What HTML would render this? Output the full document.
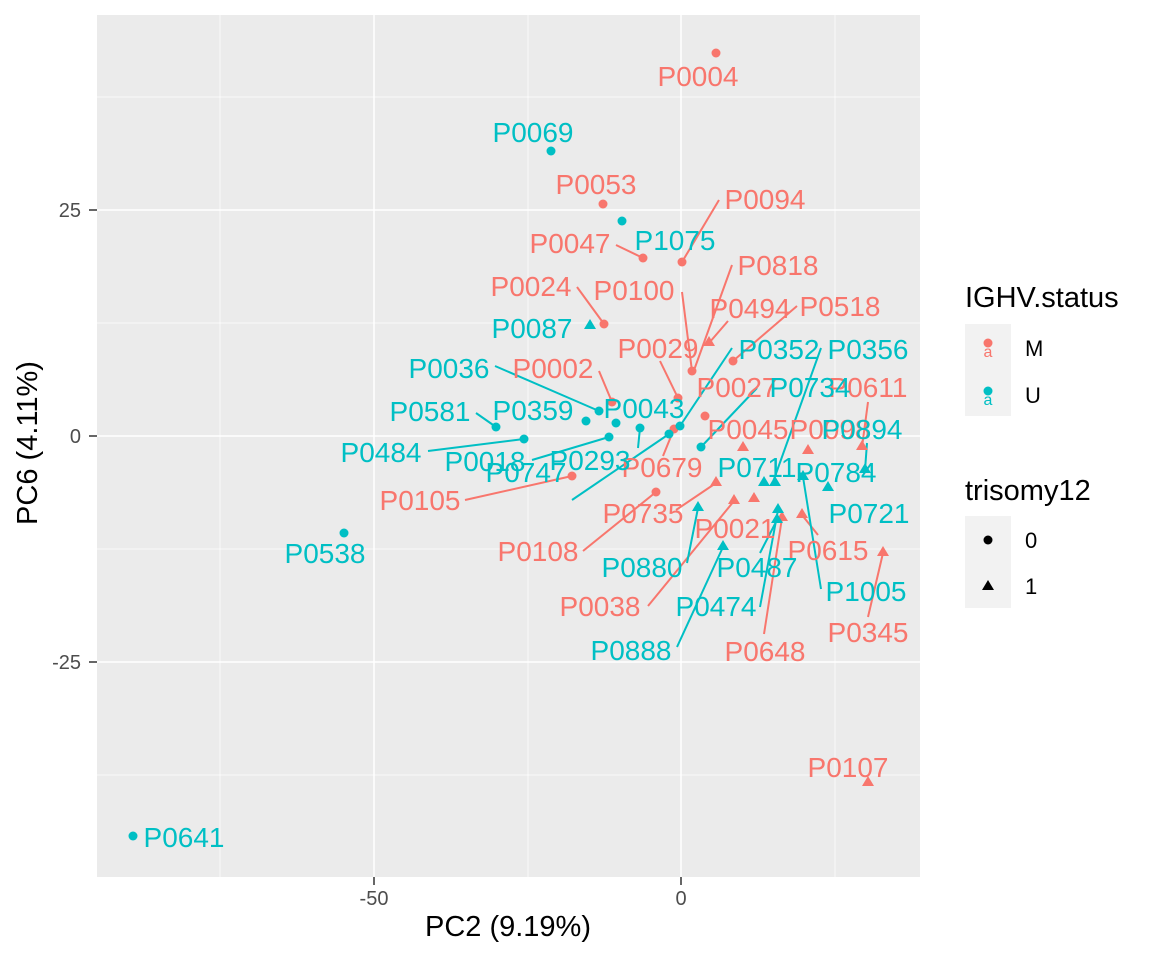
<!DOCTYPE html>
<html><head><meta charset="utf-8"><style>body{margin:0;background:#fff}svg{display:block}text{font-family:"Liberation Sans",Arial,sans-serif}</style></head><body>
<svg width="1152" height="960" xmlns="http://www.w3.org/2000/svg">
<rect x="97" y="15" width="823" height="862" fill="#EBEBEB"/>
<g stroke="#fff" stroke-width="0.7">
<line x1="220" y1="15" x2="220" y2="877"/><line x1="528" y1="15" x2="528" y2="877"/><line x1="835" y1="15" x2="835" y2="877"/>
<line x1="97" y1="97" x2="920" y2="97"/><line x1="97" y1="323" x2="920" y2="323"/><line x1="97" y1="549" x2="920" y2="549"/><line x1="97" y1="775" x2="920" y2="775"/>
</g>
<g stroke="#fff" stroke-width="1.5">
<line x1="374" y1="15" x2="374" y2="877"/><line x1="681" y1="15" x2="681" y2="877"/>
<line x1="97" y1="210" x2="920" y2="210"/><line x1="97" y1="436" x2="920" y2="436"/><line x1="97" y1="662" x2="920" y2="662"/>
</g>
<g stroke="#333" stroke-width="1.5">
<line x1="89" y1="210" x2="97" y2="210"/><line x1="89" y1="436" x2="97" y2="436"/><line x1="89" y1="662" x2="97" y2="662"/>
<line x1="374" y1="877" x2="374" y2="885"/><line x1="681" y1="877" x2="681" y2="885"/>
</g>
<g font-size="20" fill="#4D4D4D">
<text x="81" y="217" text-anchor="end">25</text><text x="81" y="443" text-anchor="end">0</text><text x="81" y="669" text-anchor="end">-25</text>
<text x="374" y="905" text-anchor="middle">-50</text><text x="681" y="905" text-anchor="middle">0</text>
</g>
<text x="508" y="936" font-size="29" text-anchor="middle">PC2 (9.19%)</text>
<text transform="translate(37,443) rotate(-90)" font-size="29" text-anchor="middle">PC6 (4.11%)</text>

<g stroke-width="2">
<g stroke="#F8766D">
<line x1="616" y1="245" x2="643" y2="258"/><line x1="719" y1="200" x2="682" y2="262"/>
<line x1="577" y1="287" x2="604" y2="324"/><line x1="682" y1="292" x2="692" y2="371"/>
<line x1="732" y1="265" x2="693" y2="373"/><line x1="728" y1="321" x2="709" y2="343"/>
<line x1="797" y1="306" x2="733" y2="361"/><line x1="660" y1="361" x2="678" y2="398"/>
<line x1="599" y1="371" x2="612" y2="402"/><line x1="868" y1="402" x2="862" y2="447"/>
<line x1="465" y1="500" x2="572" y2="476"/><line x1="676" y1="510" x2="716" y2="483"/>
<line x1="583" y1="551" x2="656" y2="492"/><line x1="648" y1="606" x2="734" y2="501"/>
<line x1="764" y1="634" x2="782" y2="518"/><line x1="818" y1="535" x2="802" y2="515"/>
<line x1="868" y1="617" x2="883" y2="553"/><line x1="663" y1="456" x2="674" y2="429"/>
</g>
<g stroke="#00BFC4">
<line x1="495" y1="366" x2="599" y2="411"/><line x1="476" y1="413" x2="496" y2="427"/>
<line x1="428" y1="451" x2="524" y2="439"/><line x1="532" y1="460" x2="609" y2="437"/>
<line x1="638" y1="448" x2="640" y2="428"/><line x1="572" y1="500" x2="669" y2="434"/>
<line x1="732" y1="348" x2="680" y2="426"/><line x1="821" y1="348" x2="773" y2="482"/>
<line x1="757" y1="388" x2="701" y2="447"/><line x1="867" y1="443" x2="865" y2="470"/>
<line x1="687" y1="563" x2="698" y2="508"/><line x1="677" y1="647" x2="723" y2="547"/>
<line x1="760" y1="607" x2="778" y2="510"/><line x1="760" y1="553" x2="777" y2="520"/>
<line x1="821" y1="589" x2="803" y2="477"/>
</g>
</g>

<g fill="#F8766D">
<circle cx="716" cy="53" r="4.5"/><circle cx="603" cy="204" r="4.5"/><circle cx="643" cy="258" r="4.5"/>
<circle cx="682" cy="262" r="4.5"/><circle cx="604" cy="324" r="4.5"/><circle cx="692" cy="371" r="4.5"/>
<circle cx="733" cy="361" r="4.5"/><circle cx="678" cy="398" r="4.5"/><circle cx="612" cy="402" r="4.5"/>
<circle cx="705" cy="416" r="4.5"/><circle cx="674" cy="429" r="4.5"/><circle cx="572" cy="476" r="4.5"/>
<circle cx="656" cy="492" r="4.5"/>
<path d="M709,336 l6,10 h-12z"/><path d="M743,441 l6,10 h-12z"/><path d="M808,444 l6,10 h-12z"/>
<path d="M862,440 l6,10 h-12z"/><path d="M716,476 l6,10 h-12z"/><path d="M734,494 l6,10 h-12z"/>
<path d="M754,492 l6,10 h-12z"/><path d="M782,511 l6,10 h-12z"/><path d="M802,508 l6,10 h-12z"/>
<path d="M883,546 l6,10 h-12z"/><path d="M868,776 l6,10 h-12z"/>
</g>
<g fill="#00BFC4">
<circle cx="551" cy="151" r="4.5"/><circle cx="622" cy="221" r="4.5"/><circle cx="599" cy="411" r="4.5"/>
<circle cx="586" cy="421" r="4.5"/><circle cx="616" cy="423" r="4.5"/><circle cx="496" cy="427" r="4.5"/>
<circle cx="524" cy="439" r="4.5"/><circle cx="609" cy="437" r="4.5"/><circle cx="640" cy="428" r="4.5"/>
<circle cx="669" cy="434" r="4.5"/><circle cx="680" cy="426" r="4.5"/><circle cx="701" cy="447" r="4.5"/>
<circle cx="344" cy="533" r="4.5"/><circle cx="133" cy="836" r="4.5"/>
<path d="M590,319 l6,10 h-12z"/><path d="M764,476 l6,10 h-12z"/><path d="M775,476 l6,10 h-12z"/>
<path d="M865,463 l6,10 h-12z"/><path d="M803,470 l6,10 h-12z"/><path d="M828,481 l6,10 h-12z"/>
<path d="M698,501 l6,10 h-12z"/><path d="M723,540 l6,10 h-12z"/><path d="M778,503 l6,10 h-12z"/>
<path d="M777,513 l6,10 h-12z"/>
</g>

<g font-size="28" text-anchor="middle" fill="#F8766D">
<text x="698" y="86">P0004</text><text x="596" y="194">P0053</text><text x="765" y="209">P0094</text>
<text x="570" y="253">P0047</text><text x="778" y="275">P0818</text><text x="531" y="296">P0024</text>
<text x="634" y="300">P0100</text><text x="750" y="318">P0494</text><text x="840" y="316">P0518</text>
<text x="658" y="358">P0029</text><text x="553" y="378">P0002</text><text x="737" y="397">P0027</text>
<text x="868" y="397">P0611</text><text x="748" y="439">P0045</text><text x="830" y="439">P0098</text>
<text x="662" y="477">P0679</text><text x="420" y="510">P0105</text><text x="643" y="523">P0735</text>
<text x="735" y="538">P0021</text><text x="538" y="561">P0108</text><text x="828" y="560">P0615</text>
<text x="600" y="616">P0038</text><text x="868" y="642">P0345</text><text x="765" y="661">P0648</text>
<text x="848" y="777">P0107</text>
</g>
<g font-size="28" text-anchor="middle" fill="#00BFC4">
<text x="533" y="142">P0069</text><text x="675" y="250">P1075</text><text x="532" y="338">P0087</text>
<text x="449" y="378">P0036</text><text x="779" y="359">P0352</text><text x="868" y="359">P0356</text>
<text x="810" y="397">P0734</text><text x="430" y="421">P0581</text><text x="533" y="420">P0359</text>
<text x="644" y="418">P0043</text><text x="862" y="439">P0894</text><text x="381" y="462">P0484</text>
<text x="485" y="471">P0018</text><text x="590" y="470">P0293</text><text x="757" y="477">P0711</text>
<text x="836" y="482">P0784</text><text x="526" y="482">P0747</text><text x="869" y="523">P0721</text>
<text x="325" y="563">P0538</text><text x="642" y="577">P0880</text><text x="757" y="577">P0487</text>
<text x="866" y="601">P1005</text><text x="716" y="616">P0474</text><text x="631" y="660">P0888</text>
<text x="184" y="847">P0641</text>
</g>

<text x="965" y="307" font-size="29">IGHV.status</text>
<rect x="965" y="324" width="46" height="92" fill="#F2F2F2"/>
<circle cx="988" cy="343" r="4.5" fill="#F8766D"/><circle cx="988" cy="391" r="4.5" fill="#00BFC4"/>
<text x="988" y="357" font-size="16" fill="#F8766D" text-anchor="middle">a</text>
<text x="988" y="405" font-size="16" fill="#00BFC4" text-anchor="middle">a</text>
<text x="1025" y="356" font-size="22">M</text><text x="1025" y="403" font-size="22">U</text>
<text x="965" y="500" font-size="29">trisomy12</text>
<rect x="965" y="516" width="46" height="92" fill="#F2F2F2"/>
<circle cx="988" cy="540" r="4.5" fill="#000"/><path d="M988,580 l6,10 h-12z" fill="#000"/>
<text x="1025" y="548" font-size="22">0</text><text x="1025" y="594" font-size="22">1</text>
</svg>
</body></html>
